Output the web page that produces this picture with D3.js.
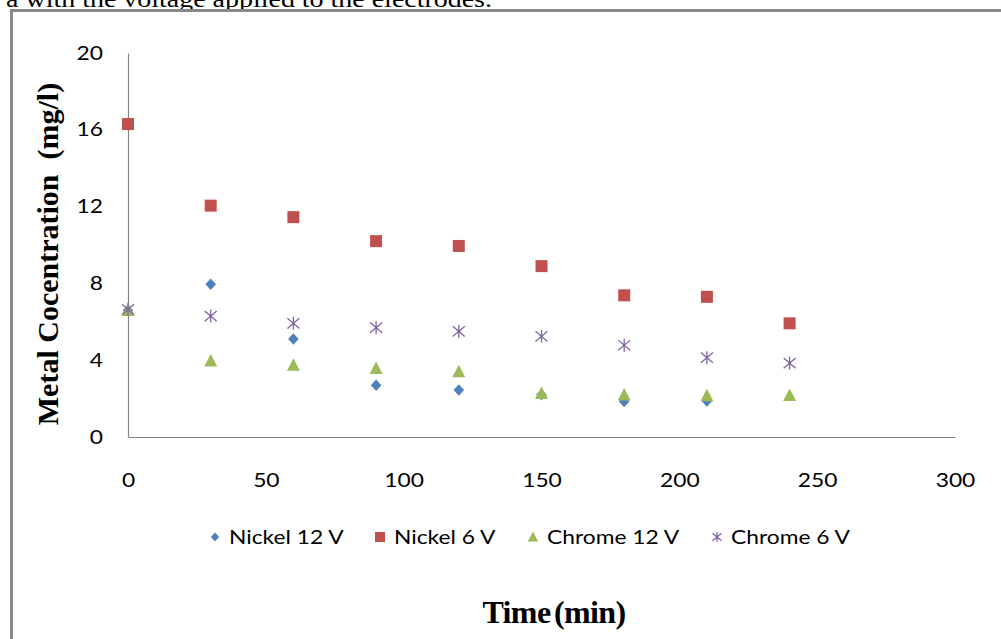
<!DOCTYPE html>
<html><head><meta charset="utf-8">
<script src="https://cdn.jsdelivr.net/npm/d3@7"></script>
<style>html,body{margin:0;padding:0;background:#fff;}svg{display:block;}text{white-space:pre;}</style>
</head><body>
<svg id="c" width="1001" height="639"></svg>
<script>
const times = [0, 30, 60, 90, 120, 150, 180, 210, 240];
const nickel12 = [6.6, 7.95, 5.1, 2.7, 2.45, 2.2, 1.85, 1.87, null];
const nickel6 = [16.3, 12.05, 11.45, 10.2, 9.95, 8.9, 7.38, 7.3, 5.92];
const chrome12 = [6.6, 3.97, 3.75, 3.58, 3.4, 2.27, 2.2, 2.15, 2.17];
const chrome6 = [6.65, 6.3, 5.92, 5.7, 5.5, 5.24, 4.78, 4.13, 3.85];
const seriesNames = ["Nickel 12 V", "Nickel 6 V", "Chrome 12 V", "Chrome 6 V"];
const yTicks = [0, 4, 8, 12, 16, 20];
const xTicks = [0, 50, 100, 150, 200, 250, 300];

const series = [
  {name: seriesNames[0], vals: nickel12, color: "#4F81BD", shape: "diamond"},
  {name: seriesNames[1], vals: nickel6, color: "#C0504D", shape: "square"},
  {name: seriesNames[2], vals: chrome12, color: "#9BBB59", shape: "triangle"},
  {name: seriesNames[3], vals: chrome6, color: "#8064A2", shape: "star"}
];

const SX = 1.2; // horizontal stretch of the original picture
const svg = d3.select("#c");
const x = d3.scaleLinear().domain([0, 300]).range([128, 955]);
const y = d3.scaleLinear().domain([0, 20]).range([437, 53]);

// caption text cut at top
svg.append("text").attr("transform", `translate(492,7) scale(1.165,1)`).attr("text-anchor", "end")
  .attr("font-family", "Liberation Serif").attr("font-size", 24).attr("fill", "#000")
  .text("a with the voltage applied to the electrodes.");

// frame
svg.append("path").attr("d", "M11.5,639 V10.5 H1001").attr("fill", "none")
  .attr("stroke", "#888").attr("stroke-width", 3);

// axes
const gx = svg.append("g").attr("transform", "translate(0,437)")
  .call(d3.axisBottom(x).tickValues(xTicks).tickSize(0).tickPadding(37));
const gy = svg.append("g").attr("transform", "translate(128,0)")
  .call(d3.axisLeft(y).tickValues(yTicks).tickSize(0).tickPadding(25));
[gx, gy].forEach(g => {
  g.select(".domain").attr("stroke", "#868686").attr("stroke-width", 1.2);
  g.selectAll("text").attr("font-family", "Lato").attr("font-size", 19).attr("fill", "#000")
    .attr("transform", `scale(${SX},1)`);
});
gy.selectAll("text").attr("x", -25 / SX);

function sym(shape, s) {
  if (shape === "diamond") { const h = s / 2; return `M0,${-h}L${h*0.92},0L0,${h}L${-h*0.92},0Z`; }
  if (shape === "square") return `M${-s/2},${-s/2}h${s}v${s}h${-s}Z`;
  if (shape === "triangle") return `M0,${-s*0.55}L${s*0.52},${s*0.45}L${-s*0.52},${s*0.45}Z`;
  const r = s / 2;
  return `M${-r},${-r*0.85}L${r},${r*0.85}M${-r},${r*0.85}L${r},${-r*0.85}M0,${-r*1.08}V${r*1.08}`;
}
function drawMarker(g, s, size) {
  if (s.shape === "star") {
    g.append("path").attr("d", sym("star", size)).attr("fill", "none")
      .attr("stroke", s.color).attr("stroke-width", 1.3);
  } else {
    g.append("path").attr("d", sym(s.shape, size)).attr("fill", s.color);
  }
}
const sizes = {diamond: 11.5, square: 12, triangle: 12.5, star: 12};
const legSizes = {diamond: 9, square: 10, triangle: 10, star: 9};

series.forEach(s => {
  const g = svg.append("g");
  s.vals.forEach((v, i) => {
    if (v == null) return;
    const m = g.append("g").attr("transform", `translate(${x(times[i])},${y(v)})`);
    drawMarker(m, s, sizes[s.shape]);
  });
});

// legend
const legX = [215, 380, 533, 717];
series.forEach((s, i) => {
  const m = svg.append("g").attr("transform", `translate(${legX[i]},537)`);
  drawMarker(m, s, legSizes[s.shape]);
  svg.append("text").attr("transform", `translate(${legX[i] + 14},537) scale(${SX},1)`)
    .attr("dy", "0.35em")
    .attr("font-family", "Lato").attr("font-size", 19).attr("fill", "#000").text(s.name);
});

// axis titles
svg.append("text").attr("transform", "translate(47,254) rotate(-90)")
  .attr("text-anchor", "middle").attr("dy", "0.35em")
  .attr("font-family", "Liberation Serif").attr("font-weight", "bold").attr("font-size", 30)
  .attr("fill", "#000").text("Metal Cocentration  (mg/l)");
svg.append("text").attr("x", 554).attr("y", 623).attr("text-anchor", "middle")
  .attr("font-family", "Liberation Serif").attr("font-weight", "bold").attr("font-size", 32)
  .attr("letter-spacing", -0.6).attr("word-spacing", -4).attr("fill", "#000").text("Time (min)");
</script>
</body></html>
